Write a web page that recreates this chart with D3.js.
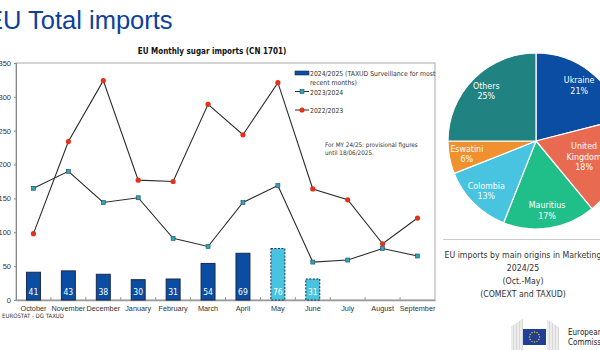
<!DOCTYPE html>
<html>
<head>
<meta charset="utf-8">
<script src="https://cdn.jsdelivr.net/npm/d3@7"></script>
<style>
  body { margin: 0; background: #fff; }
  svg { display: block; font-family: "Liberation Sans Narrow", "DejaVu Sans Condensed", sans-serif; }
</style>
</head>
<body>
<div id="chart"></div>
<script>
// Données
const months = ["October", "November", "December", "January", "February", "March",
                "April", "May", "June", "July", "August", "September"];
const imports2425 = [41, 43, 38, 30, 31, 54, 69, 76, 31];
const provisional = [false, false, false, false, false, false, false, true, true];
const imports2324 = [165, 190, 144, 151, 91, 79, 144, 169, 56, 59, 76, 65];
const imports2223 = [98, 234, 324, 177, 175, 289, 244, 321, 164, 148, 83, 121];
const yTicks = [0, 50, 100, 150, 200, 250, 300, 350];

const origins = ["Ukraine", "United Kingdom", "Mauritius", "Colombia", "Eswatini", "Others"];
const originShares = [21, 18, 17, 13, 6, 25];
const originColors = ["#0a4da2", "#e86a50", "#20bf8a", "#48c4e0", "#f0902f", "#218282"];

const W = 600, H = 350;
const svg = d3.select("#chart").append("svg")
  .attr("width", W).attr("height", H);

// Titre de la diapo
svg.append("text")
  .attr("x", -14).attr("y", 29)
  .style("font-family", "Arial, 'Liberation Sans', sans-serif")
  .style("font-size", "25.5px")
  .attr("fill", "#0d3f9c")
  .text("EU Total imports");

// Titre du graphique
svg.append("text")
  .attr("x", 212).attr("y", 54)
  .attr("text-anchor", "middle")
  .style("font-size", "8px").style("font-weight", "bold")
  .attr("fill", "#111")
  .text("EU Monthly sugar imports (CN 1701)");

// Zone de tracé
const plot = { left: 16, right: 435, top: 63, bottom: 300 };

const x = d3.scaleBand()
  .domain(months)
  .range([plot.left, plot.right]);

const y = d3.scaleLinear()
  .domain([0, 350])
  .range([plot.bottom, plot.top]);

// Cadre gris
svg.append("rect")
  .attr("x", plot.left).attr("y", plot.top)
  .attr("width", plot.right - plot.left).attr("height", plot.bottom - plot.top)
  .attr("fill", "none").attr("stroke", "#b8b8b8").attr("stroke-width", 1.2);

// Axe Y
const yAxis = svg.append("g")
  .attr("transform", `translate(${plot.left},0)`)
  .call(d3.axisLeft(y).tickValues(yTicks).tickSize(2).tickPadding(3));
yAxis.select(".domain").attr("stroke", "#888");
yAxis.selectAll("line").attr("stroke", "#888");
yAxis.selectAll("text").style("font-size", "7.5px").attr("fill", "#333");

// Axe X (graduations entre les mois)
const xAxis = svg.append("g")
  .attr("transform", `translate(0,${plot.bottom})`)
  .call(d3.axisBottom(x).tickSize(0).tickPadding(6));
xAxis.select(".domain").attr("stroke", "#999").attr("stroke-width", 1.5);
xAxis.selectAll("text").style("font-size", "7.3px").attr("fill", "#333");
svg.append("g")
  .selectAll("line")
  .data(months.slice(1))
  .join("line")
    .attr("x1", d => x(d)).attr("x2", d => x(d))
    .attr("y1", plot.bottom).attr("y2", plot.bottom - 3)
    .attr("stroke", "#999");

// Barres 2024/2025
const barW = x.bandwidth() * 0.4;
const bars = imports2425.map((v, i) => ({ m: months[i], v, prov: provisional[i] }));
svg.append("g")
  .selectAll("rect")
  .data(bars)
  .join("rect")
    .attr("x", d => x(d.m) + (x.bandwidth() - barW) / 2)
    .attr("y", d => y(d.v))
    .attr("width", barW)
    .attr("height", d => y(0) - y(d.v))
    .attr("fill", d => d.prov ? "#48c4e0" : "#0a4da2")
    .attr("stroke", "#1a2a4a")
    .attr("stroke-width", 1)
    .attr("stroke-dasharray", d => d.prov ? "2,1.5" : null);

svg.append("g")
  .selectAll("text")
  .data(bars)
  .join("text")
    .attr("x", d => x(d.m) + x.bandwidth() / 2)
    .attr("y", y(0) - 5)
    .attr("text-anchor", "middle")
    .style("font-size", "8.5px")
    .attr("fill", "#fff")
    .text(d => d.v);

// Lignes
const line = d3.line()
  .x((d, i) => x(months[i]) + x.bandwidth() / 2)
  .y(d => y(d));

svg.append("path")
  .datum(imports2223)
  .attr("d", line)
  .attr("fill", "none").attr("stroke", "#2b2b2b").attr("stroke-width", 1.1);

svg.append("path")
  .datum(imports2324)
  .attr("d", line)
  .attr("fill", "none").attr("stroke", "#2b2b2b").attr("stroke-width", 1.1);

svg.append("g")
  .selectAll("circle")
  .data(imports2223)
  .join("circle")
    .attr("cx", (d, i) => x(months[i]) + x.bandwidth() / 2)
    .attr("cy", d => y(d))
    .attr("r", 2.6)
    .attr("fill", "#e2321b");

svg.append("g")
  .selectAll("rect")
  .data(imports2324)
  .join("rect")
    .attr("x", (d, i) => x(months[i]) + x.bandwidth() / 2 - 2)
    .attr("y", d => y(d) - 2)
    .attr("width", 4).attr("height", 4)
    .attr("fill", "#2fa3b8")
    .attr("stroke", "#1f4f5a").attr("stroke-width", 0.6);

// Légende
const lg = svg.append("g").style("font-size", "6.8px").attr("fill", "#333");
lg.append("rect")
  .attr("x", 295).attr("y", 71).attr("width", 14).attr("height", 4)
  .attr("fill", "#0a4da2").attr("stroke", "#1a2a4a").attr("stroke-width", 0.6);
lg.append("text").attr("x", 310).attr("y", 76).text("2024/2025 (TAXUD Surveillance for most");
lg.append("text").attr("x", 310).attr("y", 85).text("recent months)");

lg.append("line").attr("x1", 295).attr("x2", 309).attr("y1", 91.5).attr("y2", 91.5)
  .attr("stroke", "#2b2b2b");
lg.append("rect").attr("x", 300).attr("y", 89.5).attr("width", 4).attr("height", 4)
  .attr("fill", "#2fa3b8").attr("stroke", "#1f4f5a").attr("stroke-width", 0.6);
lg.append("text").attr("x", 310).attr("y", 94.5).text("2023/2024");

lg.append("line").attr("x1", 295).attr("x2", 309).attr("y1", 110).attr("y2", 110)
  .attr("stroke", "#2b2b2b");
lg.append("circle").attr("cx", 302).attr("cy", 110).attr("r", 2.6).attr("fill", "#e2321b");
lg.append("text").attr("x", 310).attr("y", 113).text("2022/2023");

// Note
const note = svg.append("g").style("font-size", "6.3px").attr("fill", "#333");
note.append("text").attr("x", 325).attr("y", 147).text("For MY 24/25: provisional figures");
note.append("text").attr("x", 325).attr("y", 155).text("until 18/06/2025.");

// Source
svg.append("text")
  .attr("x", -20).attr("y", 318)
  .style("font-size", "6px").attr("fill", "#333")
  .text("Source: EUROSTAT - DG TAXUD");

// Camembert
const R = 88;
const pieG = svg.append("g").attr("transform", "translate(536,141)");
const pie = d3.pie().sort(null).value(d => d.v);
const pieData = pie(origins.map((o, i) => ({ o, v: originShares[i], c: originColors[i] })));
const arc = d3.arc().innerRadius(0).outerRadius(R);

pieG.selectAll("path")
  .data(pieData)
  .join("path")
    .attr("d", arc)
    .attr("fill", d => d.data.c)
    .attr("stroke", "#fff").attr("stroke-width", 1.2);

const labelArc = d3.arc().innerRadius(0).outerRadius(R * 1.6);
const labelArcUK = d3.arc().innerRadius(0).outerRadius(R * 1.15);
pieData.forEach(d => {
  const [cx, cy] = d.data.o === "United Kingdom" ? labelArcUK.centroid(d) : labelArc.centroid(d);
  const lines = d.data.o === "United Kingdom" ? ["United", "Kingdom"] : [d.data.o];
  lines.push(d.data.v + "%");
  const t = pieG.append("text")
    .attr("text-anchor", "middle")
    .style("font-size", "8.8px")
    .attr("fill", "#fff");
  lines.forEach((s, k) => {
    t.append("tspan")
      .attr("x", cx)
      .attr("y", cy + (k - (lines.length - 1) / 2) * 10.5 + 3)
      .text(s);
  });
});

// Séparateur et légende du camembert
svg.append("line")
  .attr("x1", 443).attr("x2", 600).attr("y1", 239.5).attr("y2", 239.5)
  .attr("stroke", "#ccc");
const cap = svg.append("g").attr("text-anchor", "middle")
  .style("font-size", "8.7px").attr("fill", "#333");
["EU imports by main origins in Marketing", "2024/25", "(Oct.-May)", "(COMEXT and TAXUD)"]
  .forEach((s, k) => cap.append("text").attr("x", 523).attr("y", 258 + k * 13).text(s));

// Logo Commission
const logo = svg.append("g");
d3.range(8).forEach(k => {
  logo.append("line")
    .attr("x1", 512 + k * 1.5).attr("x2", 512 + k * 1.5)
    .attr("y1", 326 - k).attr("y2", 350)
    .attr("stroke", "#c8c8c8").attr("stroke-width", 0.7);
  logo.append("line")
    .attr("x1", 548 + k * 1.5).attr("x2", 548 + k * 1.5)
    .attr("y1", 320 + k).attr("y2", 350)
    .attr("stroke", "#c8c8c8").attr("stroke-width", 0.7);
});
logo.append("rect").attr("x", 523).attr("y", 329).attr("width", 23).attr("height", 16)
  .attr("fill", "#1f3f98");
d3.range(12).forEach(k => {
  const a = k * Math.PI / 6;
  logo.append("circle")
    .attr("cx", 534.5 + 5 * Math.sin(a)).attr("cy", 337 - 5 * Math.cos(a))
    .attr("r", 0.7).attr("fill", "#f5d000");
});
logo.append("text").attr("x", 568).attr("y", 335).style("font-size", "8px")
  .attr("fill", "#222").text("European");
logo.append("text").attr("x", 568).attr("y", 345).style("font-size", "8px")
  .attr("fill", "#222").text("Commission");
</script>
</body>
</html>
